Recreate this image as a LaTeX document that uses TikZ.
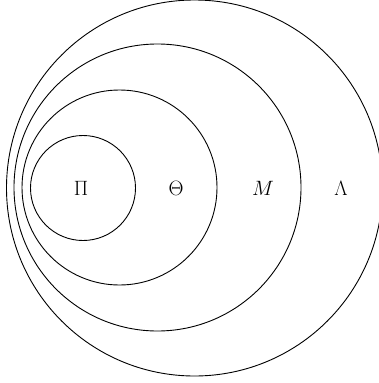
\documentclass[tikz,border=0pt]{standalone}
\begin{document}
\begin{tikzpicture}[x=1pt,y=-1pt,
  ring/.style={draw=black,line width=0.9pt},
  lab/.style={font=\fontsize{21}{23}\selectfont,inner sep=0pt}]
\useasboundingbox (0,0) rectangle (378,383);
\coordinate (cL) at (194.5,188);
\coordinate (cM) at (157.5,187.5);
\coordinate (cT) at (119.5,187.5);
\coordinate (cP) at (83,188);
\draw[ring] (cL) circle[radius=188];
\draw[ring] (cM) circle[radius=143.5];
\draw[ring] (cT) circle[radius=97.5];
\draw[ring] (cP) circle[radius=52.5];
\node[lab] (pi) at (81,188) {$\Pi$};
\node[lab] (theta) at (176,188) {$\Theta$};
\node[lab] (m) at (263,188) {$M$};
\node[lab] (lambda) at (341,188) {$\Lambda$};
\end{tikzpicture}
\end{document}
